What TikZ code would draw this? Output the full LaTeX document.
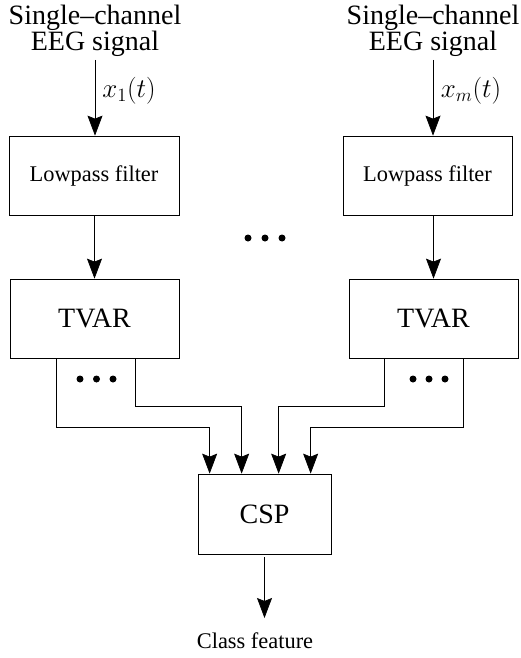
\documentclass[tikz,border=0pt]{standalone}
\usepackage{fontspec}
\setmainfont{LiberationSerif}[Extension=.ttf, UprightFont=*-Regular, BoldFont=*-Bold, ItalicFont=*-Italic, Ligatures=TeX]
\usetikzlibrary{arrows.meta}
\begin{document}
\begin{tikzpicture}[x=1pt,y=-1pt,
  big/.style={font=\fontsize{28}{26}\selectfont},
  small/.style={font=\fontsize{22.4}{25}\selectfont},
  blk/.style={draw, line width=0.7pt, inner sep=0pt},
  arr/.style={line width=0.7pt, -{Stealth[length=20pt,width=15pt,inset=3pt]}},
  dot/.style={circle, fill, inner sep=0pt, minimum size=7pt}]
\useasboundingbox (0,0) rectangle (521,658);
% sources
\node[big, align=center] (src1) at (95,31) {Single--channel\\EEG signal};
\node[big, align=center] (src2) at (433,31) {Single--channel\\EEG signal};
% blocks
\node[blk, small, minimum width=170pt, minimum height=79pt] (lp1) at (94,175.5) {Lowpass filter};
\node[blk, small, minimum width=169pt, minimum height=79pt] (lp2) at (427.5,175.5) {Lowpass filter};
\node[blk, big, minimum width=169pt, minimum height=79pt] (tv1) at (94.5,318.5) {TVAR};
\node[blk, big, minimum width=169pt, minimum height=79pt] (tv2) at (433.5,318.5) {TVAR};
\node[blk, big, minimum width=133pt, minimum height=80pt] (csp) at (264.5,514) {CSP};
\node[small] (out) at (255,641) {Class feature};
% labels
\node[small] (l1) at (129,91) {\scalebox{1.3}{$x_1(t)$}};
\node[small] (l2) at (471,91) {\scalebox{1.3}{$x_m(t)$}};
% dots
\node[dot] (d1) at (248,238) {};
\node[dot] (d2) at (265,238) {};
\node[dot] (d3) at (282,238) {};
\node[dot] (e1) at (80,379) {};
\node[dot] (e2) at (96.5,379) {};
\node[dot] (e3) at (113,379) {};
\node[dot] (f1) at (413,379) {};
\node[dot] (f2) at (429,379) {};
\node[dot] (f3) at (445,379) {};
% connectors
\coordinate (s1) at (95,60);
\coordinate (s2) at (433,60);
\draw[arr] (s1) -- (s1 |- lp1.north);
\draw[arr] (s2) -- (s2 |- lp2.north);
\draw[arr] (tv1.north |- lp1.south) -- (tv1.north);
\draw[arr] (tv2.north |- lp2.south) -- (tv2.north);
\draw[arr] ([xshift=47pt]tv1.south west) -- ([xshift=47pt]tv1.south west |- 0,427) -| ([xshift=12pt]csp.north west);
\draw[arr] ([xshift=126pt]tv1.south west) -- ([xshift=126pt]tv1.south west |- 0,406) -| ([xshift=44pt]csp.north west);
\draw[arr] ([xshift=36pt]tv2.south west) -- ([xshift=36pt]tv2.south west |- 0,406) -| ([xshift=81pt]csp.north west);
\draw[arr] ([xshift=115pt]tv2.south west) -- ([xshift=115pt]tv2.south west |- 0,427) -| ([xshift=113pt]csp.north west);
\draw[arr] ([yshift=-3pt]csp.south) -- (csp.south |- 0,618);
\end{tikzpicture}
\end{document}
